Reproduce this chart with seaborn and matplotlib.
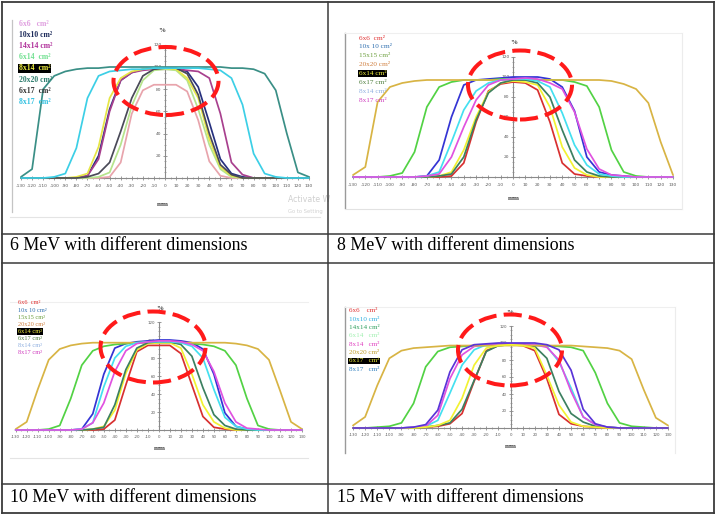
import matplotlib
matplotlib.use("Agg")
import matplotlib.pyplot as plt
import seaborn as sns
import pandas as pd
from matplotlib import font_manager
from matplotlib.patches import Ellipse
from matplotlib.lines import Line2D
from matplotlib.ticker import FixedLocator

# ---------------- data ----------------
x_mm = list(range(-130, 131, 10))
x_tick_labels = [str(v) for v in x_mm]
y_ticks = [20, 40, 60, 80, 100, 120]

captions = ["6 MeV with different dimensions", "8 MeV with different dimensions",
            "10 MeV with different dimensions", "15 MeV with different dimensions"]

# 6 MeV
fields_6 = ["6x6", "10x10", "14x14", "6x14", "8x14", "20x20", "6x17", "8x17"]
legend_6 = ["6x6   cm²", "10x10 cm²", "14x14 cm²", "6x14  cm²", "8x14  cm²", "20x20 cm²", "6x17  cm²", "8x17  cm²"]
mev6_6x6 = [0, 0, 0, 0, 0, 0, 0, 0, 1, 14, 58, 79, 84, 84, 84, 78, 52, 15, 2, 0, 0, 0, 0, 0, 0, 0, 0]
mev6_10x10 = [0, 0, 0, 0, 0, 0, 2, 20, 62, 88, 95, 98, 99, 99, 99, 96, 82, 50, 17, 4, 1, 0, 0, 0, 0, 0, 0]
mev6_14x14 = [0, 0, 0, 0, 0, 0, 2, 17, 60, 88, 95, 97, 98, 98, 98, 97, 96, 90, 58, 14, 3, 0, 0, 0, 0, 0, 0]
mev6_6x14 = [0, 0, 0, 0, 0, 0, 0, 1, 5, 30, 65, 88, 97, 98, 97, 88, 62, 30, 8, 1, 0, 0, 0, 0, 0, 0, 0]
mev6_8x14 = [0, 0, 0, 0, 0, 1, 4, 28, 72, 90, 96, 98, 99, 99, 98, 90, 72, 35, 10, 2, 0, 0, 0, 0, 0, 0, 0]
mev6_20x20 = [1, 8, 80, 92, 96, 98, 99, 99, 100, 100, 100, 100, 100, 100, 100, 100, 100, 100, 100, 99, 99, 98, 94, 79, 40, 5, 1]
mev6_6x17 = [0, 0, 0, 0, 0, 0, 1, 4, 14, 42, 72, 92, 98, 99, 99, 94, 75, 40, 12, 3, 0, 0, 0, 0, 0, 0, 0]
mev6_8x17 = [0, 0, 0, 1, 4, 27, 72, 92, 96, 97, 98, 98, 99, 99, 99, 99, 99, 98, 97, 90, 66, 22, 4, 1, 0, 0, 0]

# 8 MeV
fields_8 = ["6x6", "10x10", "15x15", "20x20", "6x14", "6x17", "8x14", "8x17"]
legend_8 = ["6x6  cm²", "10x 10 cm²", "15x15 cm²", "20x20 cm²", "6x14 cm²", "6x17 cm²", "8x14 cm²", "8x17 cm²"]
mev8_6x6 = [0, 0, 0, 0, 0, 0, 0, 0, 1, 14, 55, 86, 93, 95, 94, 87, 55, 14, 3, 1, 0, 0, 0, 0, 0, 0, 0]
mev8_10x10 = [0, 0, 0, 0, 0, 0, 1, 17, 60, 92, 97, 98, 99, 100, 100, 100, 98, 90, 66, 20, 5, 2, 1, 0, 0, 0, 0]
mev8_15x15 = [0, 0, 0, 1, 4, 25, 70, 90, 95, 97, 97, 97, 98, 98, 98, 97, 97, 97, 95, 91, 70, 27, 5, 1, 0, 0, 0]
mev8_20x20 = [2, 10, 75, 90, 94, 96, 97, 97, 97, 97, 97, 97, 97, 97, 97, 97, 97, 97, 97, 97, 97, 96, 93, 88, 74, 35, 2]
mev8_6x14 = [0, 0, 0, 0, 0, 0, 0, 1, 5, 27, 60, 85, 94, 96, 95, 92, 70, 30, 9, 2, 0, 0, 0, 0, 0, 0, 0]
mev8_6x17 = [0, 0, 0, 0, 0, 0, 0, 1, 3, 20, 57, 84, 94, 97, 97, 94, 80, 47, 17, 5, 1, 0, 0, 0, 0, 0, 0]
mev8_8x14 = [0, 0, 0, 0, 0, 0, 1, 5, 35, 67, 86, 94, 97, 98, 98, 96, 90, 64, 32, 12, 3, 1, 0, 0, 0, 0, 0]
mev8_8x17 = [0, 0, 0, 0, 0, 0, 1, 3, 20, 50, 77, 92, 97, 98, 99, 98, 94, 88, 65, 28, 8, 2, 1, 0, 0, 0, 0]

# 10 MeV
fields_10 = ["6x6", "10x10", "15x15", "20x20", "6x14", "6x17", "8x14", "8x17"]
legend_10 = ["6x6  cm²", "10x 10 cm²", "15x15 cm²", "20x20 cm²", "6x14 cm²", "6x17 cm²", "8x14 cm²", "8x17 cm²"]
mev10_6x6 = [0, 0, 0, 0, 0, 0, 0, 0, 1, 11, 50, 87, 94, 94, 94, 85, 50, 15, 3, 1, 0, 0, 0, 0, 0, 0, 0]
mev10_10x10 = [0, 0, 0, 0, 0, 0, 1, 18, 62, 91, 96, 98, 99, 100, 100, 99, 97, 90, 62, 19, 4, 1, 0, 0, 0, 0, 0]
mev10_15x15 = [0, 0, 0, 1, 5, 35, 72, 88, 93, 95, 96, 97, 97, 97, 97, 97, 96, 95, 93, 88, 72, 35, 5, 1, 0, 0, 0]
mev10_20x20 = [1, 9, 45, 78, 90, 94, 96, 97, 97, 97, 97, 97, 97, 97, 97, 97, 97, 97, 97, 97, 96, 94, 90, 78, 44, 9, 1]
mev10_6x14 = [0, 0, 0, 0, 0, 0, 0, 1, 4, 22, 63, 89, 96, 97, 97, 91, 62, 28, 9, 2, 0, 0, 0, 0, 0, 0, 0]
mev10_6x17 = [0, 0, 0, 0, 0, 0, 0, 1, 3, 28, 67, 91, 97, 98, 98, 95, 82, 47, 17, 5, 1, 0, 0, 0, 0, 0, 0]
mev10_8x14 = [0, 0, 0, 0, 0, 0, 1, 8, 48, 80, 93, 97, 98, 98, 98, 97, 93, 80, 45, 14, 4, 1, 0, 0, 0, 0, 0]
mev10_8x17 = [0, 0, 0, 0, 0, 0, 1, 8, 30, 65, 88, 96, 98, 99, 99, 98, 95, 88, 65, 30, 9, 2, 1, 0, 0, 0, 0]

# 15 MeV
fields_15 = ["6x6", "10x10", "14x14", "6x14", "8x14", "20x20", "6x17", "8x17"]
legend_15 = ["6x6    cm²", "10x10 cm²", "14x14 cm²", "6x14   cm²", "8x14   cm²", "20x20 cm²", "6x17   cm²", "8x17   cm²"]
mev15_6x6 = [0, 0, 0, 0, 0, 0, 1, 2, 5, 17, 55, 91, 97, 98, 97, 91, 58, 16, 5, 2, 1, 0, 0, 0, 0, 0, 0]
mev15_10x10 = [0, 0, 0, 0, 0, 1, 2, 9, 41, 74, 92, 98, 99, 99, 99, 98, 96, 78, 47, 13, 4, 1, 0, 0, 0, 0, 0]
mev15_14x14 = [0, 0, 1, 2, 6, 29, 72, 90, 95, 96, 97, 97, 97, 98, 98, 97, 97, 96, 95, 91, 65, 29, 6, 2, 1, 0, 0]
mev15_6x14 = [0, 0, 0, 0, 0, 0, 1, 3, 6, 22, 56, 90, 97, 98, 98, 96, 82, 43, 17, 7, 2, 1, 0, 0, 0, 0, 0]
mev15_8x14 = [0, 0, 0, 0, 0, 1, 2, 15, 58, 86, 96, 98, 99, 99, 99, 98, 95, 80, 43, 13, 4, 1, 0, 0, 0, 0, 0]
mev15_20x20 = [3, 13, 50, 82, 91, 94, 95, 96, 97, 97, 97, 97, 97, 97, 97, 97, 97, 97, 97, 96, 95, 94, 91, 81, 45, 12, 3]
mev15_6x17 = [0, 0, 0, 0, 0, 0, 1, 3, 9, 35, 74, 94, 97, 98, 97, 94, 62, 27, 7, 2, 1, 0, 0, 0, 0, 0, 0]
mev15_8x17 = [0, 0, 0, 0, 0, 1, 4, 21, 66, 92, 98, 99, 100, 100, 100, 100, 98, 92, 68, 22, 5, 1, 0, 0, 0, 0, 0]

series_6 = [mev6_6x6, mev6_10x10, mev6_14x14, mev6_6x14, mev6_8x14, mev6_20x20, mev6_6x17, mev6_8x17]
series_8 = [mev8_6x6, mev8_10x10, mev8_15x15, mev8_20x20, mev8_6x14, mev8_6x17, mev8_8x14, mev8_8x17]
series_10 = [mev10_6x6, mev10_10x10, mev10_15x15, mev10_20x20, mev10_6x14, mev10_6x17, mev10_8x14, mev10_8x17]
series_15 = [mev15_6x6, mev15_10x10, mev15_14x14, mev15_6x14, mev15_8x14, mev15_20x20, mev15_6x17, mev15_8x17]

# ---------------- styles ----------------
line_col_6 = ["#e8a4ac", "#26307e", "#a8408e", "#b6e48c", "#e6e646", "#3a8f86", "#4a4a58", "#3ccfe6"]
text_col_6 = ["#e0a0e0", "#1c2a5a", "#b0309a", "#70e090", "#f0f040", "#2e7d6e", "#333333", "#30c0e0"]
line_col_8 = ["#d83030", "#3434d4", "#52d244", "#d8b444", "#f2f232", "#3c8060", "#44e0f0", "#e052e0"]
text_col_8 = ["#e03030", "#3070b0", "#6ea040", "#d08040", "#f0f040", "#508040", "#90b0e0", "#d040c0"]
line_col_10 = line_col_8
text_col_10 = text_col_8
line_col_15 = ["#d83030", "#44e0f0", "#52d244", "#3c8060", "#e052e0", "#d8b444", "#f2f232", "#5a34d8"]
text_col_15 = ["#e03030", "#30b0e0", "#30a060", "#a0f0b0", "#e040c0", "#c0a030", "#f0f040", "#3080c0"]

W, H = 716, 516
sns.set_theme(style="white")
plt.rcParams["font.family"] = ["DejaVu Sans"]

names = {f.name for f in font_manager.fontManager.ttflist}
NARROW = "Liberation Sans Narrow" if "Liberation Sans Narrow" in names else "DejaVu Sans"
SERIF = "Liberation Serif" if "Liberation Serif" in names else "DejaVu Serif"
narrow_scale = 1.0 if NARROW == "Liberation Sans Narrow" else 0.8

fig = plt.figure(figsize=(W / 100, H / 100), dpi=100)
fig.patch.set_facecolor("white")


def fx(px):
    return px / W


def fy(py):
    return 1 - py / H


def seg(x0, y0, x1, y1, color, lw, z=1):
    fig.add_artist(Line2D([fx(x0), fx(x1)], [fy(y0), fy(y1)], transform=fig.transFigure,
                          color=color, lw=lw, zorder=z, solid_capstyle="projecting"))


def panel(series, fields, colors, xm, xp, y0, y100, tick_fs, tick_pad):
    sx = (xp - xm) / 260.0
    sy = (y0 - y100) / 100.0
    xl = (-134, 134)
    yl = (-3, 124)
    left = xm + (xl[0] + 130) * sx
    right = xm + (xl[1] + 130) * sx
    bottom = y0 - yl[0] * sy
    top = y0 - yl[1] * sy
    ax = fig.add_axes([fx(left), fy(bottom), (right - left) / W, (bottom - top) / H])
    ax.patch.set_alpha(0)
    rows = []
    for f, vals in zip(fields, series):
        for xv, yv in zip(x_mm, vals):
            rows.append({"mm": xv, "pct": yv, "field": f})
    df = pd.DataFrame(rows)
    sns.lineplot(data=df, x="mm", y="pct", hue="field", hue_order=fields,
                 palette=dict(zip(fields, colors)), estimator=None, sort=False,
                 legend=False, linewidth=1.25, ax=ax)
    ax.set_xlim(*xl)
    ax.set_ylim(*yl)
    ax.set_xlabel("")
    ax.set_ylabel("")
    for s in ["top", "right"]:
        ax.spines[s].set_visible(False)
    ax.spines["left"].set_position(("data", 0))
    ax.spines["bottom"].set_position(("data", 0))
    ax.spines["left"].set_bounds(0, 120)
    ax.spines["bottom"].set_bounds(-130, 130)
    for s in ["left", "bottom"]:
        ax.spines[s].set_color("#8a8a8a")
        ax.spines[s].set_linewidth(0.8)
        ax.spines[s].set_zorder(0.5)
    ax.xaxis.set_major_locator(FixedLocator(x_mm))
    ax.set_xticklabels(x_tick_labels)
    ax.xaxis.set_minor_locator(FixedLocator([v + 5 for v in x_mm[:-1]]))
    ax.yaxis.set_major_locator(FixedLocator(y_ticks))
    ax.set_yticklabels([str(v) for v in y_ticks])
    ax.yaxis.set_minor_locator(FixedLocator(list(range(5, 121, 5))))
    ax.tick_params(axis="both", which="major", direction="inout", length=3, width=0.6,
                   color="#8a8a8a", labelcolor="#5a5a5a", labelsize=tick_fs * narrow_scale,
                   bottom=True, left=True)
    ax.tick_params(axis="x", which="major", pad=tick_pad)
    ax.tick_params(axis="y", which="major", pad=1)
    ax.tick_params(axis="both", which="minor", direction="inout", length=1.6, width=0.5,
                   color="#8a8a8a", bottom=True, left=True)
    for lab in ax.get_xticklabels() + ax.get_yticklabels():
        lab.set_fontfamily(NARROW)
    ax.grid(False)
    return ax


def legend(x, y0, dy, labels, colors, size, weight, hl):
    for i, (lab, c) in enumerate(zip(labels, colors)):
        kw = {}
        if i == hl:
            kw["bbox"] = dict(facecolor="black", edgecolor="none", pad=0.5)
        fig.text(fx(x), fy(y0 + i * dy), lab, color=c, fontsize=size, fontweight=weight,
                 family=[SERIF, "DejaVu Serif"], va="center", ha="left", **kw)


def ring(cx, cy, w, h):
    e = Ellipse((fx(cx), fy(cy)), w / W, h / H, transform=fig.transFigure, fill=False,
                edgecolor="#ff1a1a", lw=2.9, linestyle=(0, (4.5, 1.8)), zorder=20)
    fig.add_artist(e)


# ---- panel frames (light grey picture borders) ----
seg(12, 20, 12, 212, "#c4c4c4", 0.9)
seg(10, 217, 320, 217, "#e4e4e4", 0.8)
seg(345, 33, 345, 208, "#9a9a9a", 1.0)
seg(345, 33, 682, 33, "#efefef", 0.8)
seg(345, 209, 682, 209, "#e2e2e2", 0.8)
seg(682, 33, 682, 209, "#ececec", 0.8)
seg(10, 302, 308, 302, "#efefef", 0.8)
seg(10, 458, 308, 458, "#e4e4e4", 0.8)
seg(345, 307, 345, 453, "#9a9a9a", 1.0)
seg(345, 307, 675, 307, "#efefef", 0.8)
seg(675, 307, 675, 453, "#ececec", 0.8)

# ---- panels ----
panel(series_6, fields_6, line_col_6, 21, 309, 178, 67, 4.0, 3.0)
panel(series_8, fields_8, line_col_8, 353, 673, 177, 77, 4.0, 3.0)
panel(series_10, fields_10, line_col_10, 15.7, 302, 430, 340, 3.6, 1.8)
panel(series_15, fields_15, line_col_15, 353, 668, 428, 343, 3.6, 2.4)

# axis titles
for (px, py) in [(162, 30), (514, 42), (160, 308), (510, 313)]:
    fig.text(fx(px), fy(py), "%", fontsize=5, fontweight="bold", color="#404040",
             family=[SERIF, "DejaVu Serif"], ha="center", va="center")
for (px, py) in [(163, 204), (514, 198), (160, 448), (511, 446)]:
    fig.text(fx(px), fy(py), "mm", fontsize=5, fontweight="bold", color="#404040",
             family=[SERIF, "DejaVu Serif"], ha="center", va="center")

# legends
legend(19, 24, 11.1, legend_6, text_col_6, 5.6, "bold", 4)
legend(359, 38, 8.9, legend_8, text_col_8, 5.2, "normal", 4)
legend(18, 303, 7.1, legend_10, text_col_10, 4.6, "normal", 4)
legend(349, 311, 8.3, legend_15, text_col_15, 5.1, "normal", 6)

# watermark
fig.text(fx(288), fy(200), "Activate W", fontsize=5.6, color="#cfcfcf", family="DejaVu Sans",
         va="center", ha="left")
fig.text(fx(288), fy(211), "Go to Setting", fontsize=3.8, color="#d2d2d2", family="DejaVu Sans",
         va="center", ha="left")

# dashed red rings
ring(166, 81, 105, 68)
ring(520, 85, 104, 69)
ring(153, 347, 105, 71)
ring(510, 350, 104, 71)

# ---- table grid ----
tc = "#3a3a3a"
seg(2, 1.5, 714, 1.5, tc, 1.3, 30)
seg(2, 513, 714, 513, tc, 1.3, 30)
seg(2, 1.5, 2, 513, tc, 1.3, 30)
seg(714, 1.5, 714, 513, tc, 1.3, 30)
seg(328, 1.5, 328, 513, tc, 1.1, 30)
for yy in [234, 263, 484]:
    seg(2, yy, 714, yy, tc, 1.1, 30)

# captions
for (px, py), cap in zip([(10, 245.5), (337, 245.5), (10, 497.5), (337, 497.5)], captions):
    fig.text(fx(px), fy(py), cap, fontsize=12.9, family=[SERIF, "DejaVu Serif"], color="black",
             va="center", ha="left")

fig.savefig("out.png", dpi=100, facecolor="white")
